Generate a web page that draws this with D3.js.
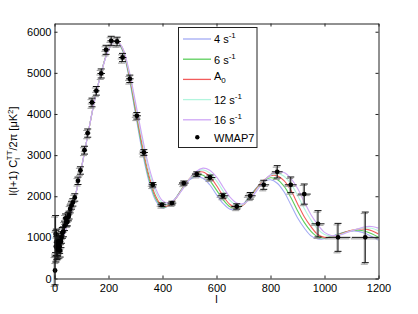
<!DOCTYPE html>
<html>
<head>
<meta charset="utf-8">
<script src="https://cdn.jsdelivr.net/npm/d3@7"></script>
<style>
  body { margin: 0; background: #fff; }
  svg { display: block; font-family: 'Liberation Sans', Arial, sans-serif; }
</style>
</head>
<body>
<svg id="chart" width="418" height="314"></svg>
<script>
const ells = [2, 10, 20, 30, 40, 50, 75, 100, 125, 150, 175, 200,
  225, 250, 275, 300, 325, 350, 375, 400, 425, 450, 475, 500, 525, 550, 575, 600,
  625, 650, 675, 700, 725, 750, 775, 800, 825, 850, 875, 900, 925, 950, 975, 1000,
  1025, 1050, 1075, 1100, 1125, 1150, 1175, 1200]

const curve4 = [950, 800, 830, 980, 1150, 1350, 1950, 2700, 3550, 4380, 5060, 5570,
  5780, 5570, 4920, 4000, 3085, 2356, 1894, 1713, 1777, 1968, 2209, 2397, 2477, 2436, 2279, 2040,
  1820, 1685, 1689, 1815, 2024, 2221, 2362, 2400, 2317, 2108, 1798, 1476, 1228, 1035, 960, 971,
  1020, 1079, 1127, 1152, 1146, 1101, 1020, 930]

const curve6 = [950, 800, 830, 980, 1150, 1350, 1950, 2700, 3550, 4380, 5055, 5565,
  5785, 5595, 4970, 4075, 3168, 2428, 1947, 1737, 1779, 1959, 2205, 2414, 2524, 2513, 2380, 2150,
  1910, 1743, 1705, 1803, 1997, 2211, 2376, 2450, 2409, 2244, 1974, 1648, 1364, 1148, 1015, 986,
  1015, 1070, 1124, 1161, 1173, 1151, 1090, 1005]

const curveA0 = [950, 800, 830, 980, 1150, 1350, 1950, 2700, 3550, 4380, 5050, 5560,
  5790, 5620, 5020, 4150, 3250, 2500, 2000, 1760, 1780, 1950, 2200, 2430, 2570, 2590, 2480, 2260,
  2000, 1800, 1720, 1790, 1970, 2200, 2390, 2500, 2500, 2380, 2150, 1820, 1500, 1260, 1070, 1000,
  1010, 1060, 1120, 1170, 1200, 1200, 1160, 1080]

const curve12 = [950, 800, 830, 980, 1150, 1350, 1950, 2700, 3550, 4380, 5045, 5555,
  5785, 5628, 5059, 4227, 3358, 2614, 2101, 1833, 1811, 1954, 2186, 2421, 2588, 2641, 2565, 2375,
  2121, 1899, 1784, 1807, 1951, 2169, 2373, 2512, 2555, 2487, 2308, 2026, 1701, 1420, 1202, 1067,
  1030, 1054, 1106, 1162, 1204, 1233, 1220, 1160]

const curve16 = [950, 800, 830, 980, 1150, 1350, 1950, 2700, 3550, 4380, 5040, 5550,
  5780, 5635, 5090, 4290, 3447, 2707, 2183, 1892, 1835, 1957, 2174, 2413, 2603, 2683, 2634, 2469,
  2220, 1980, 1836, 1821, 1936, 2144, 2359, 2522, 2600, 2575, 2437, 2194, 1866, 1550, 1310, 1121,
  1046, 1049, 1096, 1154, 1208, 1260, 1265, 1225]

const seriesValues = [curve4, curve6, curveA0, curve12, curve16]
const seriesMain = ['4 s', '6 s', 'A', '12 s', '16 s']
const seriesSup = ['-1', '-1', '', '-1', '-1']
const seriesSub = ['', '', '0', '', '']
const seriesColors = ['#a3aaf4', '#5ccf5c', '#f25c5c', '#b2f5dd', '#cfa6f6']

// WMAP7 binned band powers
const wmapL = [2, 4, 5, 7, 9, 11, 13, 15, 17, 19, 21, 24, 26, 29, 33, 37, 41, 44, 48, 51, 54, 58, 63, 68, 75,
  87, 96, 111, 123, 139, 155, 173, 191, 210, 232, 252, 279, 305, 331, 364, 398, 435, 479,
  527, 576, 624, 675, 725, 775, 825, 875, 925, 976, 1050, 1151]
const wmapD = [195, 1080, 780, 880, 740, 800, 700, 900, 836, 780, 681, 900, 997, 1110, 1135, 1280, 1459, 1380, 1378, 1500, 1541, 1690, 1775, 1850, 1970,
  2375, 2626, 3120, 3535, 4280, 4563, 4985, 5560, 5779, 5762, 5373, 4855, 3956, 3064, 2278, 1792, 1833, 2320,
  2538, 2456, 2011, 1751, 2011, 2278, 2594, 2278, 2052, 1330, 1000, 1000]
const wmapErr = [350, 450, 380, 320, 280, 250, 220, 200, 185, 170, 160, 150, 140, 130, 120, 115, 110, 105, 100, 100, 95, 95, 90, 90, 90,
  90, 90, 95, 100, 105, 105, 110, 110, 110, 105, 100, 90, 80, 70, 55, 45, 45, 50,
  55, 60, 60, 65, 80, 110, 150, 190, 245, 320, 340, 615]
const wmapHalfBin = [0, 0, 0, 0, 0, 0, 0, 0, 0, 0, 2, 2, 2, 2, 2, 2, 2, 2, 3, 3, 3, 3, 4, 4, 5,
  6, 8, 10, 10, 12, 12, 14, 14, 14, 14, 14, 14, 15, 15, 15, 16, 16, 18,
  18, 20, 20, 20, 20, 20, 20, 22, 24, 24, 46, 50]

const xTicks = [0, 200, 400, 600, 800, 1000, 1200]
const yTicks = [0, 1000, 2000, 3000, 4000, 5000, 6000]

const svg = d3.select('#chart')

const x = d3.scaleLinear()
    .domain([0, 1200])
    .range([54.5, 378.5])

const y = d3.scaleLinear()
    .domain([0, 6200])
    .range([278.5, 23.5])

svg.append('defs').append('clipPath')
    .attr('id', 'plot-clip')
  .append('rect')
    .attr('x', x(0))
    .attr('y', y(6200))
    .attr('width', x(1200) - x(0))
    .attr('height', y(0) - y(6200))

// Model curves
const line = d3.line()
    .x(d => x(d[0]))
    .y(d => y(d[1]))
    .curve(d3.curveCatmullRom.alpha(0.5))

const curves = svg.append('g')
    .attr('clip-path', 'url(#plot-clip)')

seriesValues.forEach((values, i) => {
  curves.append('path')
      .datum(ells.map((l, j) => [l, values[j]]))
      .attr('fill', 'none')
      .attr('stroke', seriesColors[i])
      .attr('stroke-width', 1.1)
      .attr('d', line)
})

// Data with error bars
const points = wmapL.map((l, i) => ({
  l,
  d: wmapD[i],
  err: wmapErr[i],
  half: wmapHalfBin[i],
}))

const cap = 3.5

function drawErrors(layer, color, shift) {
  const g = layer.append('g')
      .attr('stroke', color)
      .attr('stroke-width', 1)
      .attr('transform', `translate(${shift[0]},${shift[1]})`)

  g.selectAll('path')
    .data(points)
    .join('path')
      .attr('fill', 'none')
      .attr('d', p => {
        const cx = x(p.l)
        const y0 = y(p.d - p.err)
        const y1 = y(p.d + p.err)
        const cy = y(p.d)
        let s = `M${cx},${y0}V${y1}`
        s += `M${cx - cap},${y0}H${cx + cap}M${cx - cap},${y1}H${cx + cap}`
        if (p.half > 0)
          s += `M${x(p.l - p.half)},${cy}H${x(p.l + p.half)}`
        return s
      })
}

const dataLayer = svg.append('g')

drawErrors(dataLayer, '#9a9a9a', [-1, 1.5])
drawErrors(dataLayer, '#111', [0, 0])

dataLayer.selectAll('circle')
  .data(points)
  .join('circle')
    .attr('cx', p => x(p.l))
    .attr('cy', p => y(p.d))
    .attr('r', 2.4)
    .attr('fill', '#000')

// Axes, ticks on the inside like a box
const axisFont = g => g
    .attr('font-family', "'Liberation Sans', Arial, sans-serif")
    .attr('font-size', 11)

svg.append('g')
    .attr('transform', `translate(0,${y(0)})`)
    .call(d3.axisBottom(x).tickValues(xTicks).tickFormat(d3.format('d')).tickSizeInner(-3).tickSizeOuter(0).tickPadding(6))
    .call(axisFont)

svg.append('g')
    .attr('transform', `translate(${x(0)},0)`)
    .call(d3.axisLeft(y).tickValues(yTicks).tickFormat(d3.format('d')).tickSizeInner(-3).tickSizeOuter(0).tickPadding(3))
    .call(axisFont)

svg.append('g')
    .attr('transform', `translate(0,${y(6200)})`)
    .call(d3.axisTop(x).tickValues(xTicks).tickFormat('').tickSizeInner(-3).tickSizeOuter(0))

svg.append('g')
    .attr('transform', `translate(${x(1200)},0)`)
    .call(d3.axisRight(y).tickValues(yTicks).tickFormat('').tickSizeInner(-3).tickSizeOuter(0))

svg.selectAll('.domain, .tick line')
    .attr('stroke', '#222')

// Axis labels
svg.append('text')
    .attr('x', (x(0) + x(1200)) / 2)
    .attr('y', 303)
    .attr('text-anchor', 'middle')
    .attr('font-size', 11)
    .text('l')

const yLabel = svg.append('text')
    .attr('transform', `translate(17,${(y(0) + y(6200)) / 2}) rotate(-90)`)
    .attr('text-anchor', 'middle')
    .attr('font-size', 11)

yLabel.append('tspan').text('l(l+1) C')
yLabel.append('tspan').attr('font-size', 8).attr('dy', 3).text('l')
yLabel.append('tspan').attr('font-size', 8).attr('dx', -2.2).attr('dy', -8).text('TT')
yLabel.append('tspan').attr('dy', 5).text('/2π [μK')
yLabel.append('tspan').attr('font-size', 8).attr('dy', -4).text('2')
yLabel.append('tspan').attr('dy', 4).text(']')

// Legend
const legend = svg.append('g')

legend.append('rect')
    .attr('x', 178.5)
    .attr('y', 27.5)
    .attr('width', 78.5)
    .attr('height', 120)
    .attr('fill', '#fff')
    .attr('stroke', '#222')

seriesMain.forEach((name, i) => {
  const ly = 39 + i * 20.2
  legend.append('line')
      .attr('x1', 183)
      .attr('x2', 211)
      .attr('y1', ly)
      .attr('y2', ly)
      .attr('stroke', seriesColors[i])
      .attr('stroke-width', 1.3)

  const t = legend.append('text')
      .attr('x', 214)
      .attr('y', ly + (seriesSub[i] ? 1 : 4.3))
      .attr('font-size', 11)

  t.append('tspan').text(name)
  if (seriesSup[i])
    t.append('tspan').attr('font-size', 8).attr('dy', -5).text(seriesSup[i])
  if (seriesSub[i])
    t.append('tspan').attr('font-size', 8).attr('dy', 3).text(seriesSub[i])
})

legend.append('circle')
    .attr('cx', 197.3)
    .attr('cy', 137.3)
    .attr('r', 2.2)
    .attr('fill', '#000')

legend.append('text')
    .attr('x', 214)
    .attr('y', 141.6)
    .attr('font-size', 11)
    .text('WMAP7')
</script>
</body>
</html>
